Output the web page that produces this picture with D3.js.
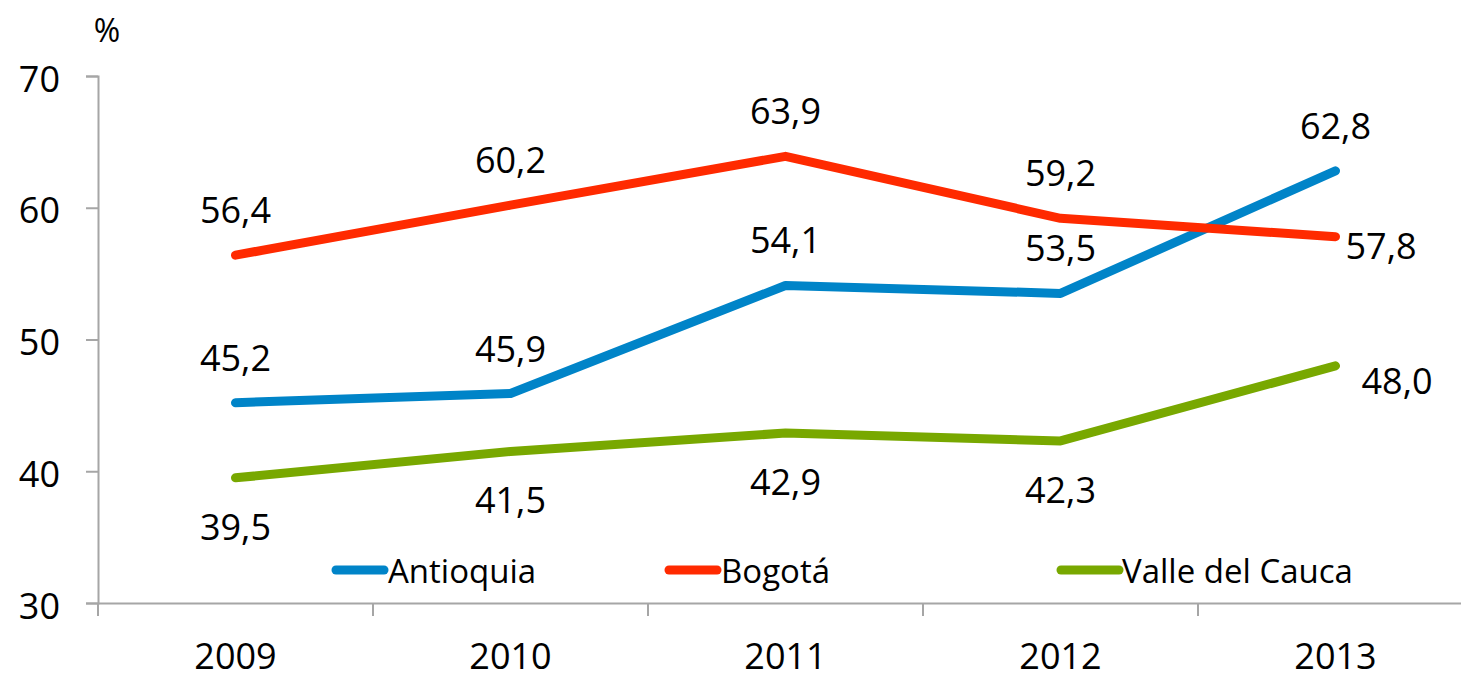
<!DOCTYPE html>
<html>
<head>
<meta charset="utf-8">
<script src="https://cdn.jsdelivr.net/npm/d3@7"></script>
<style>
  body { margin: 0; background: #fff; }
  text { font-family: "Open Sans", sans-serif; fill: #000; }
</style>
</head>
<body>
<div id="chart"></div>
<script>
const years = ["2009", "2010", "2011", "2012", "2013"];
const antioquia = [45.2, 45.9, 54.1, 53.5, 62.8];
const bogota = [56.4, 60.2, 63.9, 59.2, 57.8];
const valle = [39.5, 41.5, 42.9, 42.3, 48.0];
const yTicks = [30, 40, 50, 60, 70];

// where each data label sits relative to its point
const antioquiaPos = ["above", "above", "above", "above", "above"];
const bogotaPos = ["above", "above", "above", "above", "right"];
const vallePos = ["below", "below", "below", "below", "right2"];

const series = [
  { name: "Antioquia", values: antioquia, pos: antioquiaPos, color: "#0084c8" },
  { name: "Bogotá", values: bogota, pos: bogotaPos, color: "#ff2a00" },
  { name: "Valle del Cauca", values: valle, pos: vallePos, color: "#78a800" }
];

const width = 1461, height = 678;
const svg = d3.select("#chart").append("svg")
    .attr("width", width)
    .attr("height", height);

const x = d3.scaleBand().domain(years).range([98, 1473]);
const y = d3.scaleLinear().domain([30, 70]).range([603, 76]);

const axisColor = "#a6a6a6";
const fs = 36;

// y axis
const yAxis = svg.append("g").attr("transform", "translate(98,0)")
  .call(d3.axisLeft(y).tickValues(yTicks).tickSize(12).tickPadding(26));
yAxis.select(".domain").attr("stroke", axisColor).attr("stroke-width", 2);
yAxis.selectAll(".tick line").attr("stroke", axisColor).attr("stroke-width", 2);
yAxis.selectAll(".tick text")
  .attr("font-size", fs)
  .attr("font-family", "Open Sans, sans-serif")
  .attr("dy", "0.42em");

// x axis
const xAxis = svg.append("g").attr("transform", "translate(0,603)")
  .call(d3.axisBottom(x).tickSize(0).tickPadding(0));
xAxis.select(".domain").attr("stroke", axisColor).attr("stroke-width", 2);
xAxis.selectAll(".tick text")
  .attr("font-size", fs)
  .attr("font-family", "Open Sans, sans-serif")
  .attr("dy", null)
  .attr("y", 66);

// x tick marks at band edges
const edges = years.map(d => x(d)).concat([x(years[years.length - 1]) + x.bandwidth()]);
svg.append("g").selectAll("line")
  .data(edges)
  .enter().append("line")
  .attr("x1", d => d).attr("x2", d => d)
  .attr("y1", 603).attr("y2", 616)
  .attr("stroke", axisColor)
  .attr("stroke-width", 2);

// unit label
svg.append("text")
  .attr("x", 107).attr("y", 42)
  .attr("text-anchor", "middle")
  .attr("font-size", 32)
  .text("%");

const line = d3.line()
  .x((d, i) => x(years[i]) + x.bandwidth() / 2)
  .y(d => y(d));

series.forEach(s => {
  svg.append("path")
    .datum(s.values)
    .attr("d", line)
    .attr("fill", "none")
    .attr("stroke", s.color)
    .attr("stroke-width", 9)
    .attr("stroke-linecap", "round")
    .attr("stroke-linejoin", "round");
});

// data labels
series.forEach(s => {
  svg.append("g").selectAll("text")
    .data(s.values)
    .enter().append("text")
    .attr("font-size", fs)
    .attr("text-anchor", (d, i) => s.pos[i].startsWith("right") ? "start" : "middle")
    .attr("x", (d, i) => {
      const cx = x(years[i]) + x.bandwidth() / 2;
      if (s.pos[i] === "right") return cx + 10;
      if (s.pos[i] === "right2") return cx + 26;
      return cx;
    })
    .attr("y", (d, i) => {
      const cy = y(d);
      if (s.pos[i] === "above") return cy - 32;
      if (s.pos[i] === "below") return cy + 62;
      if (s.pos[i] === "right") return cy + 22;
      return cy + 28;
    })
    .text(d => d.toFixed(1).replace(".", ","));
});

// legend
const legendX = [336, 669, 1061];
const legend = svg.append("g").selectAll("g")
  .data(series)
  .enter().append("g")
  .attr("transform", (d, i) => `translate(${legendX[i]},570)`);
legend.append("line")
  .attr("x1", 0).attr("x2", (d, i) => i === 2 ? 58 : 48)
  .attr("stroke", d => d.color)
  .attr("stroke-width", 9)
  .attr("stroke-linecap", "round");
legend.append("text")
  .attr("x", (d, i) => i === 2 ? 61 : 52)
  .attr("y", 13)
  .attr("font-size", 33)
  .text(d => d.name);
</script>
</body>
</html>
